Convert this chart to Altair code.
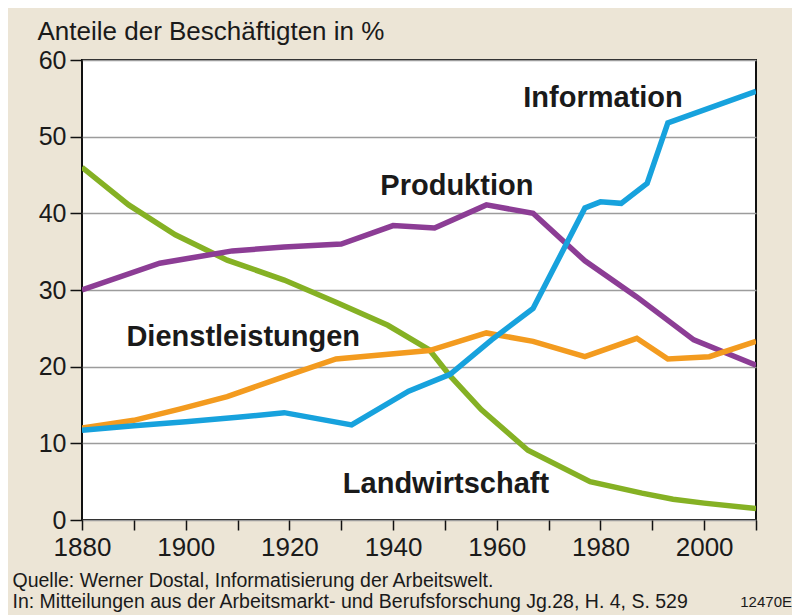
import altair as alt
import pandas as pd

# ---- data ----
agri_years = [1880, 1889, 1898, 1908, 1919, 1929, 1939, 1947, 1951, 1957, 1966, 1978, 1988, 1994, 2000, 2010]
agri_vals = [46.0, 41.1, 37.2, 33.9, 31.3, 28.4, 25.4, 22.2, 18.8, 14.4, 9.1, 5.0, 3.5, 2.7, 2.2, 1.5]

prod_years = [1880, 1895, 1909, 1919, 1930, 1940, 1948, 1958, 1967, 1977, 1987, 1998, 2002, 2010]
prod_vals = [30.0, 33.5, 35.1, 35.6, 36.0, 38.4, 38.1, 41.1, 40.0, 33.8, 29.1, 23.5, 22.4, 20.2]

dienst_years = [1880, 1890, 1899, 1908, 1919, 1929, 1947, 1958, 1967, 1977, 1987, 1993, 2001, 2010]
dienst_vals = [12.0, 13.0, 14.5, 16.1, 18.7, 21.0, 22.1, 24.4, 23.3, 21.3, 23.7, 21.0, 21.3, 23.3]

info_years = [1880, 1890, 1900, 1910, 1919, 1932, 1943, 1951, 1959, 1967, 1977, 1980, 1984, 1989, 1993, 2010]
info_vals = [11.7, 12.3, 12.8, 13.4, 14.0, 12.4, 16.8, 19.0, 23.5, 27.6, 40.7, 41.5, 41.3, 43.9, 51.8, 55.9]

series_names = ["Landwirtschaft", "Produktion", "Dienstleistungen", "Information"]
series_colors = ["#85B124", "#8C3D95", "#F39B1F", "#17A2DD"]

label_names = ["Information", "Produktion", "Dienstleistungen", "Landwirtschaft"]
label_years = [1980.5, 1952.3, 1911.1, 1950.2]
label_vals = [53.9, 42.4, 22.7, 3.5]

x_ticks = list(range(1880, 2011, 10))
y_ticks = [0, 10, 20, 30, 40, 50, 60]

title_text = "Anteile der Beschäftigten in %"
source_lines = [
    "Quelle: Werner Dostal, Informatisierung der Arbeitswelt.",
    "In: Mitteilungen aus der Arbeitsmarkt- und Berufsforschung Jg.28, H. 4, S. 529",
]
code_text = ["12470E"]

# ---- tables ----
rows = []
for name, ys, vs in zip(series_names,
                        [agri_years, prod_years, dienst_years, info_years],
                        [agri_vals, prod_vals, dienst_vals, info_vals]):
    for yr, v in zip(ys, vs):
        rows.append({"Sektor": name, "Jahr": yr, "Anteil": v})
df = pd.DataFrame(rows)

lab_df = pd.DataFrame({"Name": label_names, "Jahr": label_years, "Anteil": label_vals})
code_df = pd.DataFrame({"t": code_text})

FONT = "Liberation Sans, Arial, Helvetica, sans-serif"
TXT = "#1a1a1a"

x_enc = alt.X(
    "Jahr:Q",
    scale=alt.Scale(domain=[1880, 2010], nice=False, zero=False),
    axis=alt.Axis(
        values=x_ticks,
        format="d",
        labelExpr="datum.value % 20 === 0 ? datum.label : ''",
        labelFlush=False,
        labelOverlap=False,
        labelFont=FONT,
        labelFontSize=26,
        labelColor=TXT,
        labelPadding=4,
        tickSize=10,
        tickColor="#111111",
        tickWidth=1.5,
        domain=False,
        grid=False,
        title=source_lines,
        titleFont=FONT,
        titleFontSize=19.5,
        titleFontWeight="normal",
        titleColor=TXT,
        titleAlign="left",
        titleAnchor="start",
        titleBaseline="alphabetic",
        titleX=-70,
        titleY=66,
        titleLineHeight=21,
    ),
)

y_enc = alt.Y(
    "Anteil:Q",
    scale=alt.Scale(domain=[0, 60], nice=False),
    axis=alt.Axis(
        values=y_ticks,
        labelFont=FONT,
        labelFontSize=25,
        labelColor=TXT,
        labelPadding=4,
        tickSize=12,
        tickColor="#111111",
        tickWidth=1.5,
        domain=False,
        grid=True,
        gridColor="#9c9c9c",
        gridWidth=1.5,
        title=title_text,
        titleFont=FONT,
        titleFontSize=26,
        titleFontWeight="normal",
        titleColor=TXT,
        titleAngle=0,
        titleAlign="left",
        titleAnchor="start",
        titleBaseline="alphabetic",
        titleX=-45,
        titleY=-21,
    ),
)

lines = alt.Chart(df).mark_line(strokeWidth=5.5, clip=True, strokeJoin="miter").encode(
    x=x_enc,
    y=y_enc,
    color=alt.Color("Sektor:N", scale=alt.Scale(domain=series_names, range=series_colors), legend=None),
)

labels = alt.Chart(lab_df).mark_text(
    font=FONT, fontSize=29, fontWeight="bold", color=TXT, align="center", baseline="alphabetic"
).encode(
    x=x_enc,
    y=y_enc,
    text="Name:N",
)

code = alt.Chart(code_df).mark_text(
    font=FONT, fontSize=15, color=TXT, align="right", baseline="alphabetic"
).encode(
    x=alt.value(710),
    y=alt.value(547),
    text="t:N",
)

chart = (
    alt.layer(lines, labels, code)
    .properties(
        width=674,
        height=460,
        background="#ECE5D6",
        padding={"left": 74, "top": 52, "right": 36, "bottom": 95},
        autosize=alt.AutoSizeParams(type="none"),
    )
    .configure_view(fill="white", stroke="#111111", strokeWidth=2)
)

chart.save("out.html", embed_options={"renderer": "svg", "actions": False})
